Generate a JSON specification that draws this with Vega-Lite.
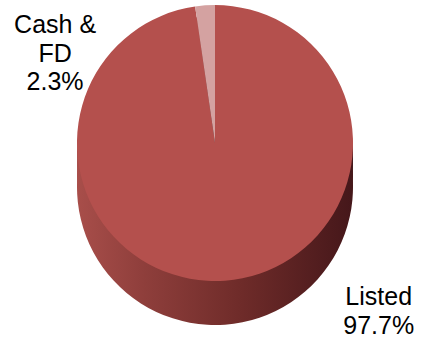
{
  "$schema": "https://vega.github.io/schema/vega-lite/v6.json",
  "width": 430,
  "height": 338,
  "autosize": {"type": "none"},
  "padding": 0,
  "background": "white",
  "view": {"stroke": null},
  "data": {
    "values": [
      {"category": "Listed", "label": "Listed", "value": 97.7, "order": 1},
      {"category": "Cash & FD", "label": "Cash &\nFD", "value": 2.3, "order": 2}
    ]
  },
  "transform": [
    {"calculate": "datum.label + '\\n' + format(datum.value, '.1f') + '%'", "as": "labelText"}
  ],
  "encoding": {
    "theta": {"field": "value", "type": "quantitative", "stack": true},
    "order": {"field": "order", "type": "quantitative"}
  },
  "layer": [
    {"mark": {"type": "arc", "outerRadius": 138, "yOffset": 18, "fill": {"gradient": "linear", "x1": 0, "x2": 1, "y1": 0, "y2": 0, "stops": [{"offset": 0, "color": "#A84E4A"}, {"offset": 0.25, "color": "#8E3E3B"}, {"offset": 0.6, "color": "#6E2B29"}, {"offset": 1, "color": "#45171A"}]}}},
    {"mark": {"type": "arc", "outerRadius": 138, "yOffset": 7, "fill": {"gradient": "linear", "x1": 0, "x2": 1, "y1": 0, "y2": 0, "stops": [{"offset": 0, "color": "#A84E4A"}, {"offset": 0.25, "color": "#8E3E3B"}, {"offset": 0.6, "color": "#6E2B29"}, {"offset": 1, "color": "#45171A"}]}}},
    {"mark": {"type": "arc", "outerRadius": 138, "yOffset": -4, "fill": {"gradient": "linear", "x1": 0, "x2": 1, "y1": 0, "y2": 0, "stops": [{"offset": 0, "color": "#A84E4A"}, {"offset": 0.25, "color": "#8E3E3B"}, {"offset": 0.6, "color": "#6E2B29"}, {"offset": 1, "color": "#45171A"}]}}},
    {"mark": {"type": "arc", "outerRadius": 138, "yOffset": -15, "fill": {"gradient": "linear", "x1": 0, "x2": 1, "y1": 0, "y2": 0, "stops": [{"offset": 0, "color": "#A84E4A"}, {"offset": 0.25, "color": "#8E3E3B"}, {"offset": 0.6, "color": "#6E2B29"}, {"offset": 1, "color": "#45171A"}]}}},
    {
      "mark": {"type": "arc", "outerRadius": 138, "yOffset": -26},
      "encoding": {
        "color": {"field": "category", "type": "nominal", "legend": null, "scale": {"domain": ["Listed", "Cash & FD"], "range": ["#B4504D", "#D4A2A1"]}}
      }
    },
    {
      "mark": {"type": "text", "radius": 110, "yOffset": -26, "dx": -152, "align": "center", "baseline": "alphabetic", "fontSize": 25, "font": "Liberation Sans", "lineBreak": "\n", "lineHeight": 28.5, "color": "black"},
      "encoding": {
        "text": {"condition": {"test": "datum.category === 'Cash & FD'", "field": "labelText", "type": "nominal"}, "value": ""}
      }
    },
    {
      "mark": {"type": "text", "radius": 162, "yOffset": -26, "dx": 152, "align": "center", "baseline": "alphabetic", "fontSize": 25, "font": "Liberation Sans", "lineBreak": "\n", "lineHeight": 29, "color": "black"},
      "encoding": {
        "text": {"condition": {"test": "datum.category === 'Listed'", "field": "labelText", "type": "nominal"}, "value": ""}
      }
    }
  ]
}
